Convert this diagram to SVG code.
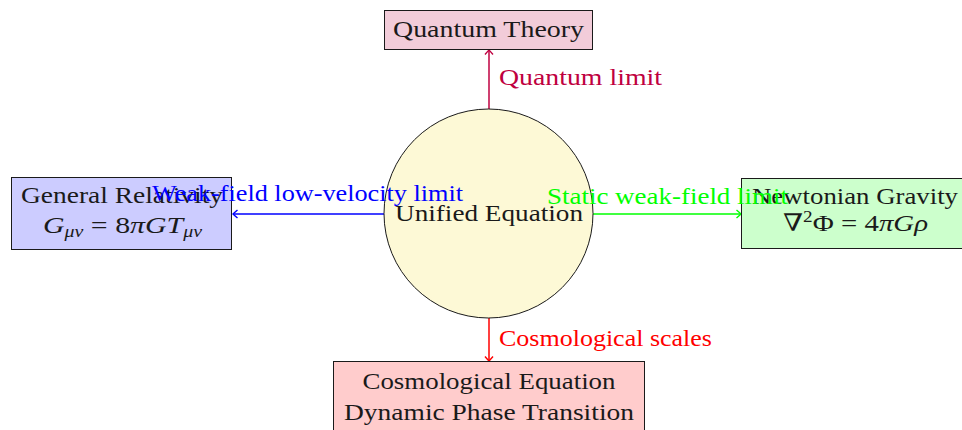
<svg xmlns="http://www.w3.org/2000/svg" width="962" height="430" viewBox="0 0 962 430">
<style>
text{font-family:"Liberation Serif","DejaVu Serif",serif;font-size:24px;fill:#1a1a1a}
.box{stroke:#1a1a1a;stroke-width:1}
.m{font-style:italic}
.c{text-anchor:middle}
.conn{fill:none;stroke-width:1.5}
</style>
<defs>
<marker id="aP" markerWidth="12" markerHeight="12" refX="9" refY="6" orient="auto" markerUnits="userSpaceOnUse"><path d="M4.5 2 Q8 5 9 6 Q8 7 4.5 10" fill="none" stroke="#bf0040" stroke-width="1.4"/></marker>
<marker id="aB" markerWidth="12" markerHeight="12" refX="9" refY="6" orient="auto" markerUnits="userSpaceOnUse"><path d="M4.5 2 Q8 5 9 6 Q8 7 4.5 10" fill="none" stroke="#0000ff" stroke-width="1.4"/></marker>
<marker id="aG" markerWidth="12" markerHeight="12" refX="9" refY="6" orient="auto" markerUnits="userSpaceOnUse"><path d="M4.5 2 Q8 5 9 6 Q8 7 4.5 10" fill="none" stroke="#00ff00" stroke-width="1.4"/></marker>
<marker id="aR" markerWidth="12" markerHeight="12" refX="9" refY="6" orient="auto" markerUnits="userSpaceOnUse"><path d="M4.5 2 Q8 5 9 6 Q8 7 4.5 10" fill="none" stroke="#ff0000" stroke-width="1.4"/></marker>
</defs>
<rect width="962" height="430" fill="#ffffff"/>
<g id="connectors">
<line class="conn" x1="489" y1="109" x2="489" y2="50" stroke="#bf0040" marker-end="url(#aP)"/>
<line class="conn" x1="385" y1="214" x2="233" y2="214" stroke="#0000ff" marker-end="url(#aB)"/>
<line class="conn" x1="593" y1="214" x2="741" y2="214" stroke="#00ff00" marker-end="url(#aG)"/>
<line class="conn" x1="489" y1="318" x2="489" y2="361" stroke="#ff0000" marker-end="url(#aR)"/>
</g>
<g id="quantum">
<rect class="box" x="384.5" y="10.5" width="208" height="39" fill="#f2ccd9"/>
<text x="488.5" y="37" class="c" textLength="191" lengthAdjust="spacingAndGlyphs">Quantum Theory</text>
</g>
<g id="gr">
<rect class="box" x="11.5" y="177.5" width="220" height="72" fill="#ccccff"/>
<text x="122" y="203" class="c" textLength="202" lengthAdjust="spacingAndGlyphs">General Relativity</text>
<text x="122.5" y="233" class="c" textLength="159" lengthAdjust="spacingAndGlyphs"><tspan class="m">G</tspan><tspan class="m" font-size="16" dy="4">μν</tspan><tspan dy="-4"> = 8</tspan><tspan class="m">πGT</tspan><tspan class="m" font-size="16" dy="4">μν</tspan></text>
</g>
<g id="newton">
<rect class="box" x="741.5" y="178.5" width="225" height="70" fill="#ccffcc"/>
<text x="855" y="204" class="c" textLength="206" lengthAdjust="spacingAndGlyphs">Newtonian Gravity</text>
<text x="855.5" y="231" class="c" textLength="145" lengthAdjust="spacingAndGlyphs">∇<tspan font-size="16" dy="-9">2</tspan><tspan dy="9">Φ = 4</tspan><tspan class="m">πGρ</tspan></text>
</g>
<g id="cosmo">
<rect class="box" x="333.5" y="361.5" width="311" height="75" fill="#ffcccc"/>
<text x="489" y="389" class="c" textLength="253" lengthAdjust="spacingAndGlyphs">Cosmological Equation</text>
<text x="489" y="420" class="c" textLength="290" lengthAdjust="spacingAndGlyphs">Dynamic Phase Transition</text>
</g>
<g id="unified">
<circle cx="488.5" cy="213.5" r="104.5" fill="#fdf9d6" stroke="#1a1a1a" stroke-width="1"/>
<text x="489" y="221" class="c" textLength="188" lengthAdjust="spacingAndGlyphs">Unified Equation</text>
</g>
<g id="labels">
<text x="499" y="85" style="fill:#bf0040" textLength="163" lengthAdjust="spacingAndGlyphs">Quantum limit</text>
<text x="152" y="201" style="fill:#0000ff" textLength="311" lengthAdjust="spacingAndGlyphs">Weak-field low-velocity limit</text>
<text x="547" y="204" style="fill:#00ff00" textLength="241" lengthAdjust="spacingAndGlyphs">Static weak-field limit</text>
<text x="499" y="346" style="fill:#ff0000" textLength="213" lengthAdjust="spacingAndGlyphs">Cosmological scales</text>
</g>
</svg>
